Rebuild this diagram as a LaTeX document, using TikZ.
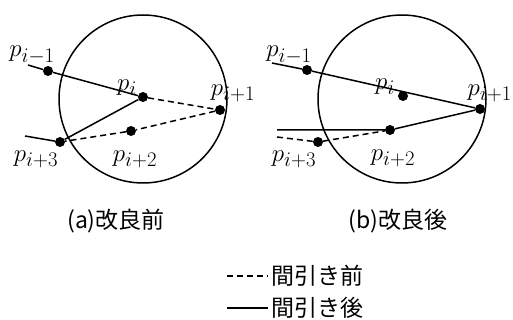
\documentclass[tikz,border=0pt]{standalone}
\usepackage{fontspec}
\newfontfamily\jpfont{Noto Sans CJK JP}
\usetikzlibrary{positioning}
\tikzset{
  vtx/.style={circle, fill=black, inner sep=0pt, minimum size=10pt},
  plbl/.style={font=\Huge, inner sep=0pt},
  jtxt/.style={font=\jpfont\fontsize{23}{23}\selectfont, inner sep=0pt},
  ln/.style={line width=1.5pt},
  dl/.style={line width=1.5pt, dash pattern=on 6pt off 4pt},
}

\begin{document}
\begin{tikzpicture}[x=1pt, y=-1pt]
  \useasboundingbox (0,0) rectangle (513,320);
  % (a) before
  \draw[ln] (143,99) circle[radius=84pt];
  \coordinate (la) at (28,65);
  \coordinate (lb) at (25,136);
  \node[vtx] (a1) at (48,71) {};
  \node[vtx] (a2) at (143,97) {};
  \node[vtx] (a3) at (220,110) {};
  \node[vtx] (a4) at (131,131) {};
  \node[vtx] (a5) at (60,142) {};
  \draw[ln] (la) -- (a1) -- (a2) -- (a5) -- (lb);
  \draw[dl] (a2) -- (a3) -- (a4) -- (a5);
  \node[plbl] (ta1) at (32,55) {$p_{i-1}$};
  \node[plbl] (ta2) at (127,88) {$p_i$};
  \node[plbl] (ta3) at (233,93) {$p_{i+1}$};
  \node[plbl] (ta4) at (135,159) {$p_{i+2}$};
  \node[plbl] (ta5) at (36,159) {$p_{i+3}$};
  \node[jtxt] (capa) at (116,221) {(a)改良前};
  % (b) after
  \draw[ln] (402,99) circle[radius=84pt];
  \coordinate (ra) at (272,63);
  \coordinate (rb) at (277,130);
  \coordinate (rc) at (277,137);
  \node[vtx] (b1) at (307,70) {};
  \node[vtx] (b2) at (403,96) {};
  \node[vtx] (b3) at (480,109) {};
  \node[vtx] (b4) at (390,130) {};
  \node[vtx] (b5) at (318,142) {};
  \draw[ln] (ra) -- (b1) -- (b3) -- (b4) -- (rb);
  \draw[dl] (rc) -- (b5) -- (b4);
  \node[plbl] (tb1) at (289,55) {$p_{i-1}$};
  \node[plbl] (tb2) at (385,87) {$p_i$};
  \node[plbl, anchor=east] (tb3) at (512,93) {$p_{i+1}$};
  \node[plbl] (tb4) at (393,158) {$p_{i+2}$};
  \node[plbl] (tb5) at (294,159) {$p_{i+3}$};
  \node[jtxt] (capb) at (398,221) {(b)改良後};
  % legend
  \node[jtxt, anchor=west] (kd) at (271,276) {間引き前};
  \node[jtxt, anchor=west] (ks) at (271,308) {間引き後};
  \draw[dl] ([xshift=-44pt]kd.west) -- ([xshift=-3pt]kd.west);
  \draw[ln] ([xshift=-44pt]ks.west) -- ([xshift=-3pt]ks.west);
\end{tikzpicture}
\end{document}
